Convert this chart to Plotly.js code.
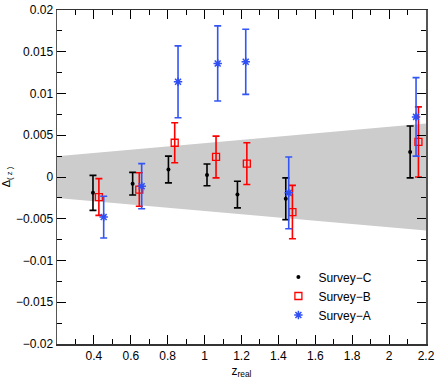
<!DOCTYPE html>
<html><head><meta charset="utf-8">
<script src="https://cdn.plot.ly/plotly-3.0.1.min.js"></script>
<style>html,body{margin:0;padding:0;background:#fff}</style>
</head><body><div id="chart" style="width:436px;height:382px"></div>
<script>
// Survey-C (black dots)
const zC = [0.395, 0.61, 0.804, 1.013, 1.178, 1.44, 2.114];
const dC = [-0.0019, -0.0008, 0.0009, 0.00025, -0.0021, -0.0026, 0.0030];
const eC = [0.0021, 0.00135, 0.0016, 0.0013, 0.0016, 0.0025, 0.0031];
// Survey-B (red open squares)
const zB = [0.427, 0.646, 0.838, 1.062, 1.229, 1.476, 2.159];
const dB = [-0.0024, -0.0015, 0.0041, 0.0024, 0.0016, -0.0042, 0.0042];
const eB = [0.0022, 0.0020, 0.0024, 0.0025, 0.0025, 0.0032, 0.0042];
// Survey-A (blue asterisks)
const zA = [0.453, 0.659, 0.856, 1.071, 1.223, 1.456, 2.146];
const dA = [-0.0048, -0.0011, 0.0114, 0.0136, 0.0138, -0.0019, 0.0072];
const eA = [0.0025, 0.0027, 0.0043, 0.0045, 0.0039, 0.0043, 0.0047];
// Grey band
const bandZ = [0.2, 2.2];
const bandUpper = [0.0025, 0.0064];
const bandLower = [-0.0025, -0.0064];

const traces = [
  {x: bandZ, y: bandLower, mode: 'lines', line: {width: 0, color: '#cccccc'}, showlegend: false, hoverinfo: 'skip'},
  {x: bandZ, y: bandUpper, mode: 'lines', line: {width: 0, color: '#cccccc'}, fill: 'tonexty', fillcolor: '#cccccc', showlegend: false, hoverinfo: 'skip'},
  {x: zC, y: dC, name: 'Survey\u2212C', mode: 'markers',
   marker: {symbol: 'circle', size: 4, color: '#000'},
   error_y: {type: 'data', array: eC, visible: true, color: '#000', thickness: 1.6, width: 3.5}},
  {x: zB, y: dB, name: 'Survey\u2212B', mode: 'markers',
   marker: {symbol: 'square-open', size: 7, color: '#ff0000', line: {width: 1.3, color: '#ff0000'}},
   error_y: {type: 'data', array: eB, visible: true, color: '#ff0000', thickness: 1.6, width: 3.5}},
  {x: zA, y: dA, name: 'Survey\u2212A', mode: 'markers',
   marker: {symbol: 'asterisk-open', size: 7, color: '#2f4ff5', line: {width: 1.5, color: '#2f4ff5'}},
   error_y: {type: 'data', array: eA, visible: true, color: '#3355f5', thickness: 1.6, width: 3.5}}
];

const axFont = {family: 'Liberation Sans, Arial, sans-serif', size: 12, color: '#000'};
const layout = {
  width: 436, height: 382,
  margin: {l: 57, r: 10, t: 10, b: 38},
  paper_bgcolor: '#fff', plot_bgcolor: '#fff',
  font: axFont,
  showlegend: true,
  legend: {x: 0.6, y: 0.244, xanchor: 'left', yanchor: 'top', bgcolor: 'rgba(0,0,0,0)',
           traceorder: 'normal',
           font: {family: 'Liberation Sans, Arial, sans-serif', size: 12, color: '#000'},
           tracegroupgap: 0, itemsizing: 'trace', itemwidth: 30},
  xaxis: {
    range: [0.2, 2.2], tickvals: [0.4,0.6,0.8,1,1.2,1.4,1.6,1.8,2,2.2],
    ticktext: ['0.4','0.6','0.8','1','1.2','1.4','1.6','1.8','2','2.2'],
    ticks: 'inside', ticklen: 9, tickwidth: 1, tickcolor: '#000',
    minor: {dtick: 0.1, tick0: 0.2, ticks: 'inside', ticklen: 5, tickcolor: '#000', showgrid: false},
    showgrid: false, zeroline: false, showline: true, linecolor: '#333', linewidth: 1.5, mirror: 'ticks',
    tickfont: axFont,
    title: {text: 'z<sub>real</sub>', font: {family: 'Liberation Sans, Arial, sans-serif', size: 12, color: '#000'}, standoff: 4}
  },
  yaxis: {
    range: [-0.02, 0.02], tickvals: [-0.02,-0.015,-0.01,-0.005,0,0.005,0.01,0.015,0.02],
    ticktext: ['\u22120.02','\u22120.015','\u22120.01','\u22120.005','0','0.005','0.01','0.015','0.02'],
    ticks: 'inside', ticklen: 9, tickwidth: 1, tickcolor: '#000',
    minor: {dtick: 0.0025, tick0: 0, ticks: 'inside', ticklen: 5, tickcolor: '#000', showgrid: false},
    showgrid: false, zeroline: false, showline: true, linecolor: '#555', linewidth: 1.5, mirror: 'ticks',
    tickfont: axFont,
    title: {text: '\u0394<sub>( z )</sub>', font: {family: 'Liberation Sans, Arial, sans-serif', size: 11, color: '#000'}, standoff: 4}
  }
};
Plotly.newPlot('chart', traces, layout, {displayModeBar: false, staticPlot: true});
</script></body></html>
